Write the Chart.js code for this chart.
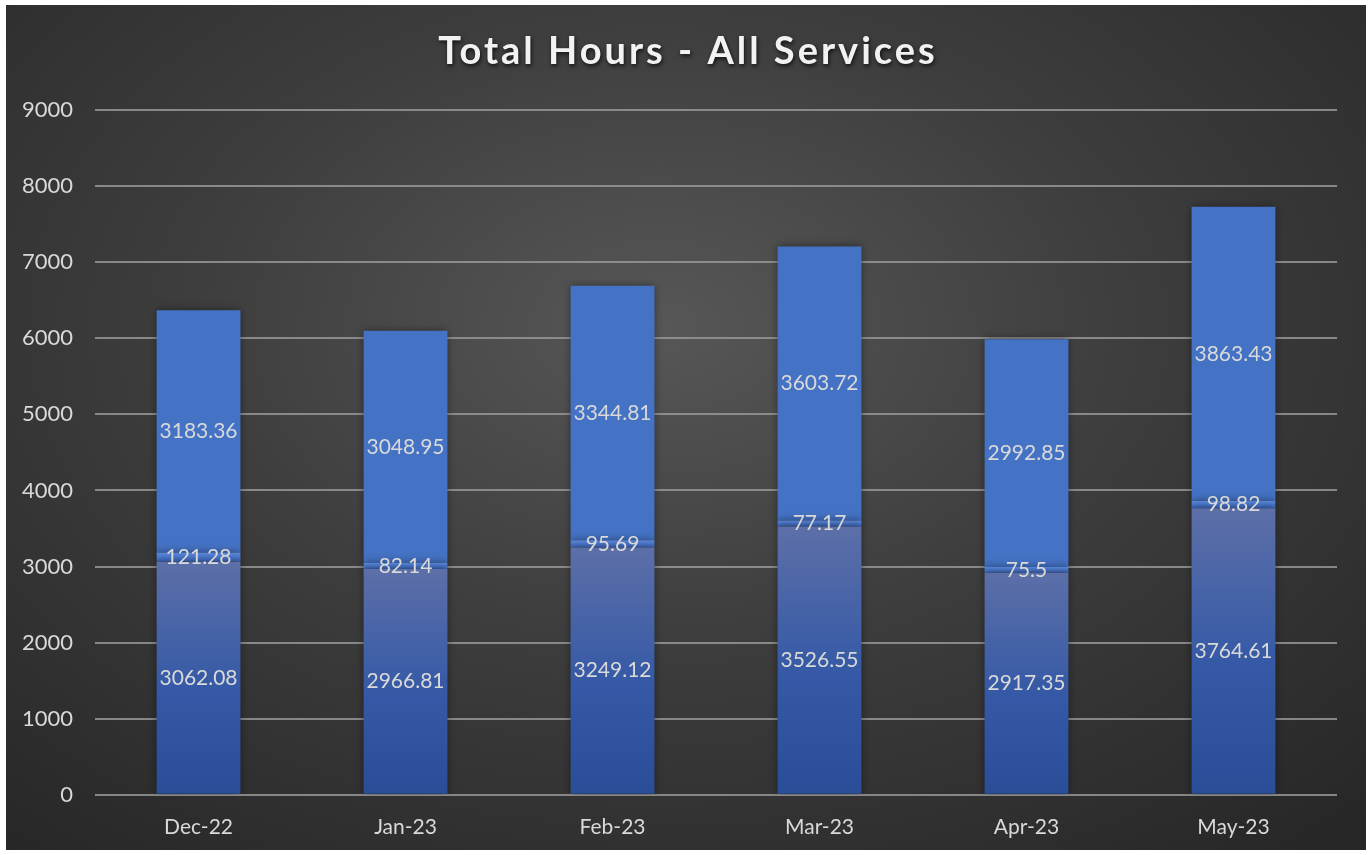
<!DOCTYPE html>
<html>
<head>
<meta charset="utf-8">
<script src="https://cdn.jsdelivr.net/npm/chart.js@4"></script>
<style>
  html, body { margin: 0; padding: 0; background: #fff; }
  #wrap {
    position: absolute; left: 6px; top: 5px; width: 1360px; height: 845px;
    background: radial-gradient(ellipse 75% 80% at 48% 38%, #575757 0%, #3e3e3e 45%, #272727 100%);
  }
</style>
</head>
<body>
<div id="wrap"><canvas id="hoursChart"></canvas></div>
<script>
const months = ['Dec-22', 'Jan-23', 'Feb-23', 'Mar-23', 'Apr-23', 'May-23'];
const baseHours = [3062.08, 2966.81, 3249.12, 3526.55, 2917.35, 3764.61];
const midHours = [121.28, 82.14, 95.69, 77.17, 75.5, 98.82];
const topHours = [3183.36, 3048.95, 3344.81, 3603.72, 2992.85, 3863.43];
const yMax = 9000;
const yStep = 1000;

const labelColor = '#d9d9d9';
const fontFamily = 'Lato, "Open Sans", sans-serif';

// gradient for the bottom segment, per bar (dark at the base, greyish at the top)
function baseGradient(c) {
  const chart = c.chart;
  const y = chart.scales.y;
  if (!y || !chart.chartArea) return '#3a5ba3';
  const y0 = y.getPixelForValue(0);
  const y1 = y.getPixelForValue(c.raw);
  if (!isFinite(y0) || !isFinite(y1) || y0 === y1) return '#3a5ba3';
  const g = chart.ctx.createLinearGradient(0, y0, 0, y1);
  g.addColorStop(0, '#294d97');
  g.addColorStop(0.45, '#3559a6');
  g.addColorStop(1, '#5c6fa8');
  return g;
}

function midGradient(c) {
  const chart = c.chart;
  const y = chart.scales.y;
  if (!y || !chart.chartArea) return '#4a78cc';
  const y0 = y.getPixelForValue(baseHours[c.dataIndex]);
  const y1 = y.getPixelForValue(baseHours[c.dataIndex] + c.raw);
  if (!isFinite(y0) || !isFinite(y1) || y0 === y1) return '#4a78cc';
  const g = chart.ctx.createLinearGradient(0, y0, 0, y1);
  g.addColorStop(0, '#3a66b9');
  g.addColorStop(1, '#5a88dc');
  return g;
}

const barShadow = {
  id: 'barShadow',
  beforeDatasetsDraw(chart) {
    const ctx = chart.ctx;
    ctx.save();
    ctx.shadowColor = 'rgba(0,0,0,0.45)';
    ctx.shadowBlur = 8;
  },
  afterDatasetsDraw(chart) {
    chart.ctx.restore();
  }
};

const valueLabels = {
  id: 'valueLabels',
  afterDatasetsDraw(chart) {
    const ctx = chart.ctx;
    ctx.save();
    ctx.font = '21px ' + fontFamily;
    ctx.fillStyle = labelColor;
    ctx.textAlign = 'center';
    ctx.textBaseline = 'middle';
    chart.data.datasets.forEach((ds, i) => {
      const meta = chart.getDatasetMeta(i);
      meta.data.forEach((bar, j) => {
        const mid = (bar.y + bar.base) / 2;
        ctx.fillText(String(ds.data[j]), bar.x, mid);
      });
    });
    ctx.restore();
  }
};

const titleText = {
  id: 'titleText',
  afterDraw(chart) {
    const ctx = chart.ctx;
    ctx.save();
    ctx.font = 'bold 38px ' + fontFamily;
    if ('letterSpacing' in ctx) ctx.letterSpacing = '3px';
    ctx.fillStyle = '#f2f2f2';
    ctx.textAlign = 'center';
    ctx.textBaseline = 'middle';
    ctx.shadowColor = 'rgba(0,0,0,0.75)';
    ctx.shadowBlur = 4;
    ctx.shadowOffsetX = 1;
    ctx.shadowOffsetY = 2;
    ctx.fillText('Total Hours - All Services', chart.width / 2 + 2, 47);
    ctx.restore();
  }
};

const ctx = document.getElementById('hoursChart').getContext('2d');

const hoursChart = new Chart(ctx, {
  type: 'bar',
  data: {
    labels: months,
    datasets: [
      {
        label: 'Base',
        data: baseHours,
        backgroundColor: baseGradient,
        borderWidth: 0,
        categoryPercentage: 1,
        barPercentage: 0.405
      },
      {
        label: 'Other',
        data: midHours,
        backgroundColor: midGradient,
        borderWidth: 0,
        categoryPercentage: 1,
        barPercentage: 0.405
      },
      {
        label: 'Top',
        data: topHours,
        backgroundColor: '#4472c4',
        borderWidth: 0,
        categoryPercentage: 1,
        barPercentage: 0.405
      }
    ]
  },
  options: {
    responsive: true,
    maintainAspectRatio: false,
    animation: false,
    layout: {
      padding: { top: 105, right: 29, bottom: -10, left: -6 }
    },
    plugins: {
      legend: { display: false },
      title: { display: false },
      tooltip: { enabled: false }
    },
    scales: {
      x: {
        stacked: true,
        grid: { display: false, drawTicks: false },
        border: { display: false },
        ticks: {
          color: labelColor,
          font: { family: fontFamily, size: 21 },
          padding: 20
        }
      },
      y: {
        stacked: true,
        min: 0,
        max: yMax,
        grid: {
          color: 'rgba(150,150,150,0.85)',
          lineWidth: 2,
          drawTicks: false
        },
        border: { display: false },
        ticks: {
          stepSize: yStep,
          color: labelColor,
          font: { family: fontFamily, size: 22 },
          padding: 22,
          callback: (v) => String(v)
        }
      }
    }
  },
  plugins: [barShadow, valueLabels, titleText]
});
</script>
</body>
</html>
